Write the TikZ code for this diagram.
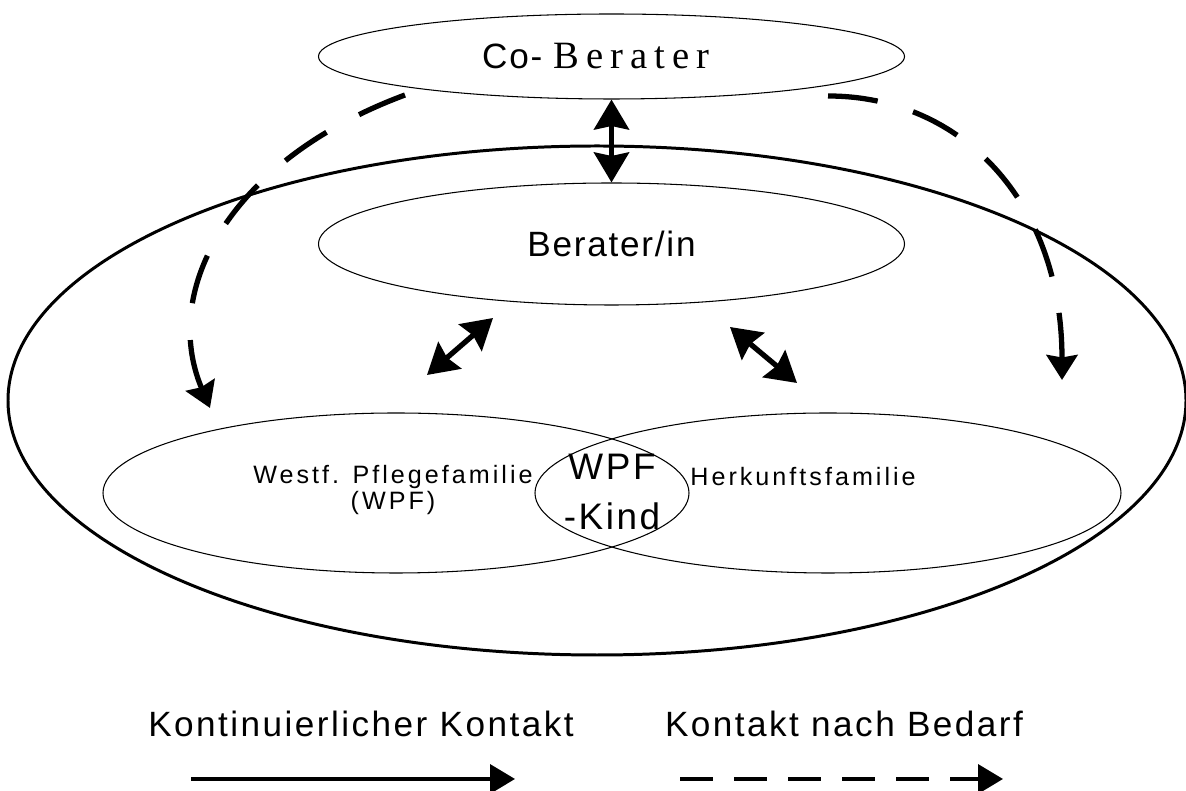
\documentclass[tikz,border=0pt]{standalone}
\usepackage{fontspec}
\setmainfont{Liberation Sans}
\newfontfamily\spacedfont[LetterSpace=12]{Liberation Sans}
\newfontfamily\legendfont[LetterSpace=7]{Liberation Sans}
\newfontfamily\beraterfont[LetterSpace=5]{Liberation Sans}
\newfontfamily\spacedserif[LetterSpace=18]{Liberation Serif}
\usetikzlibrary{
    shapes.geometric,
    arrows.meta,
    positioning,
    calc
}

\begin{document}
\begin{tikzpicture}[
            person_ellipse/.style={ellipse, draw, line width=0.6pt, minimum width=11.72cm, inner sep=0pt},
            family_ellipse/.style={ellipse, draw, line width=0.6pt, minimum width=11.72cm, minimum height=3.2cm, inner sep=0pt},
            frame_ellipse/.style={ellipse, draw, line width=1.7pt, minimum width=23.56cm, minimum height=10.18cm},
            family_text/.style={align=center, inner sep=0pt, font=\spacedfont\fontsize{14.3}{14.8}\selectfont},
            legend_text/.style={inner sep=0pt, font=\legendfont\fontsize{20}{24}\selectfont},
            contact_arrow/.style={{Stealth[length=0.6cm, width=0.7cm, inset=0.07cm]}-{Stealth[length=0.6cm, width=0.7cm, inset=0.07cm]}, line width=3pt},
            need_arrow/.style={-{Stealth[length=0.5cm, width=0.62cm, inset=0.05cm]}, line width=3pt, dash pattern=on 1cm off 0.74cm},
            legend_solid/.style={-{Triangle[length=0.5cm, width=0.58cm]}, line width=2pt},
            legend_dashed/.style={-{Triangle[length=0.5cm, width=0.58cm]}, line width=2pt, dash pattern=on 0.66cm off 0.42cm}
        ]
        \useasboundingbox (0,0) rectangle (23.72,15.82);

        \node[frame_ellipse] (team_frame) at (11.94,7.81) {};

        \node[person_ellipse, minimum height=1.70cm] (co_berater) at (12.23,14.69)
            {\beraterfont\fontsize{20}{24}\selectfont Co- \spacedserif\fontsize{22}{24}\selectfont Berater\kern0.63cm};

        \node[person_ellipse, minimum height=2.44cm] (berater) at (12.23,10.94)
            {\beraterfont\fontsize{20}{24}\selectfont Berater/in};

        \node[family_ellipse] (pflege) at (7.92,5.96) {};
        \node[family_ellipse] (herkunft) at (16.56,5.96) {};

        \node[family_text] (pflege_text) at (7.86,6.02) {Westf. Pflegefamilie\\(WPF)};
        \node[family_text, anchor=west] (herkunft_text) at (13.80,6.28) {Herkunftsfamilie};

        \node[align=center, inner sep=0pt, font=\legendfont\fontsize{21}{28}\selectfont] (kind) at (12.24,5.98) {WPF\\-Kind};

        % kontinuierliche Kontakte
        \coordinate (left_top) at (9.86,9.46);
        \coordinate (left_bottom) at (8.54,8.32);
        \coordinate (right_top) at (14.60,9.28);
        \coordinate (right_bottom) at (15.94,8.16);

        \draw[contact_arrow] (co_berater.south) -- (berater.north);
        \draw[contact_arrow] (left_top) -- (left_bottom);
        \draw[contact_arrow] (right_top) -- (right_bottom);

        % Kontakte nach Bedarf
        \coordinate (need_left_start) at (8.10,13.92);
        \coordinate (need_left_end) at (4.20,7.66);
        \coordinate (need_right_start) at (16.56,13.90);
        \coordinate (need_right_end) at (21.24,8.22);

        \draw[need_arrow] (need_left_start) .. controls (4.60,12.62) and (3.20,10.02) .. (need_left_end);
        \draw[need_arrow] (need_right_start) .. controls (19.20,13.90) and (21.24,11.82) .. (need_right_end);

        % Legende
        \node[legend_text] (legend_solid_text) at (7.22,1.34) {Kontinuierlicher Kontakt};
        \node[legend_text] (legend_dashed_text) at (16.88,1.34) {Kontakt nach Bedarf};

        \coordinate (solid_start) at (3.82,0.24);
        \coordinate (solid_end) at (10.30,0.24);
        \coordinate (dashed_start) at (13.60,0.24);
        \coordinate (dashed_end) at (20.06,0.24);

        \draw[legend_solid] (solid_start) -- (solid_end);
        \draw[legend_dashed] (dashed_start) -- (dashed_end);

\end{tikzpicture}
\end{document}
